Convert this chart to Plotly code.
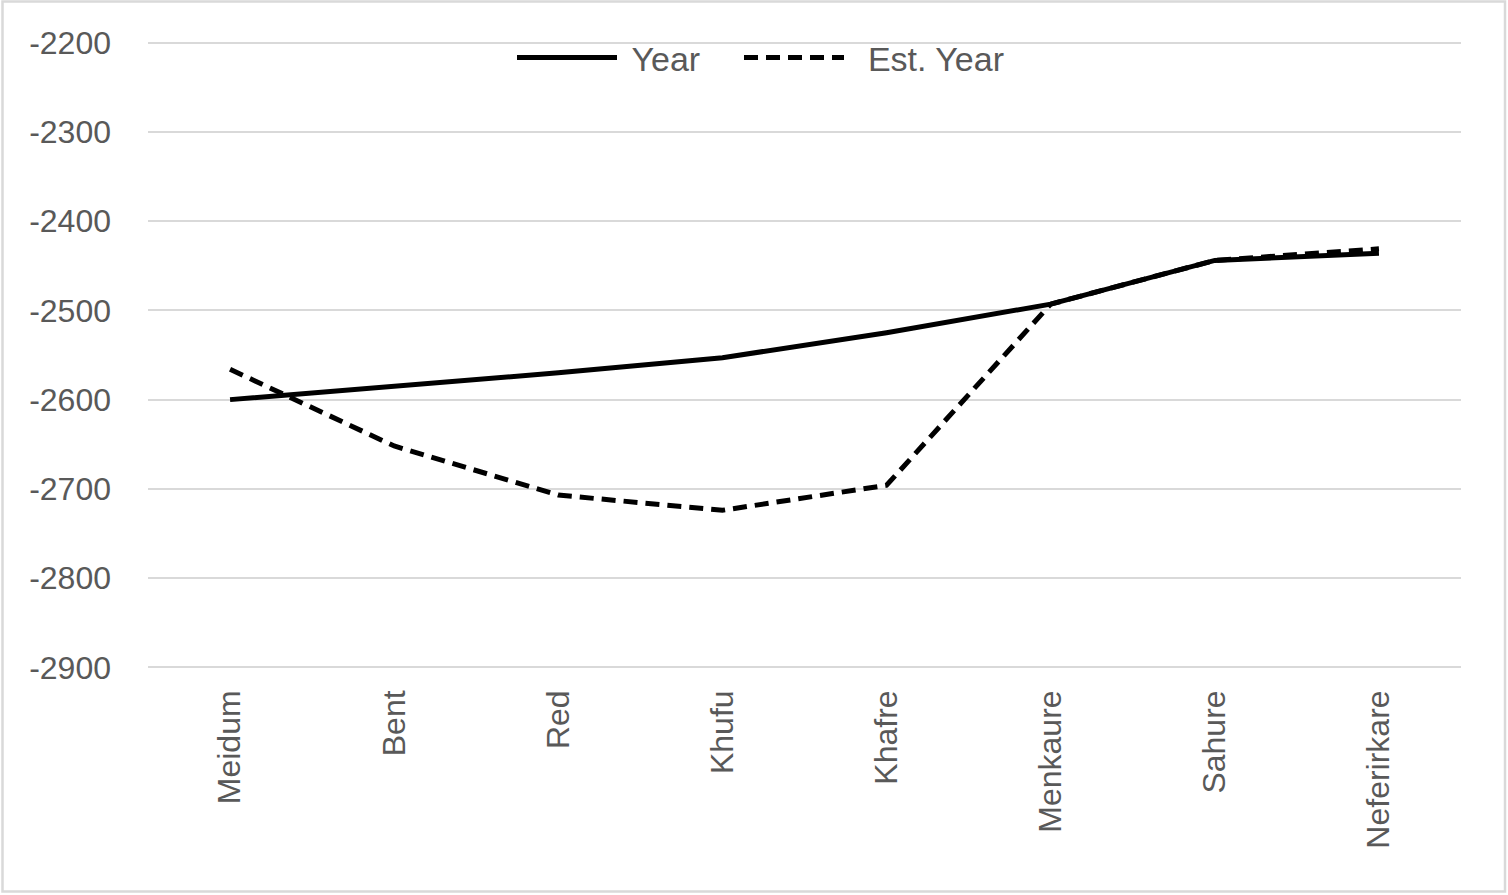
import plotly.graph_objects as go

pyramids = ["Meidum", "Bent", "Red", "Khufu", "Khafre", "Menkaure", "Sahure", "Neferirkare"]
year = [-2600, -2585, -2570, -2553, -2525, -2493, -2444, -2436]
est_year = [-2566, -2652, -2707, -2724, -2696, -2493, -2444, -2431]
y_ticks = [-2900, -2800, -2700, -2600, -2500, -2400, -2300, -2200]

W, H = 1508, 895
L, R, T, B = 148, 47, 40, 225

fig = go.Figure()
fig.add_trace(go.Scatter(x=pyramids, y=year, mode="lines", name="\u00a0Year",
                         legendwidth=112,
                         line=dict(color="black", width=5)))
fig.add_trace(go.Scatter(x=pyramids, y=est_year, mode="lines", name="\u00a0\u00a0Est. Year",
                         line=dict(color="black", width=5, dash="14px,8px")))

font = dict(family="Liberation Sans, Arial, sans-serif", size=32, color="#595959")
lfont = dict(family="Liberation Sans, Arial, sans-serif", size=34, color="#595959")

pw = W - L - R
ph = H - T - B
fig.update_layout(
    width=W, height=H,
    margin=dict(l=L, r=R, t=T, b=B),
    paper_bgcolor="white", plot_bgcolor="white",
    font=font,
    showlegend=True,
    legend=dict(orientation="h", x=(512 - L) / pw, xanchor="left",
                y=(H - B - 58) / ph, yanchor="middle",
                bgcolor="rgba(0,0,0,0)", font=lfont, itemwidth=100,
                traceorder="normal"),
    xaxis=dict(type="category", showgrid=False, zeroline=False, showline=False,
               tickangle=-90, ticks="", ticklabelstandoff=13,
               range=[-0.5, len(pyramids) - 0.5]),
    yaxis=dict(range=[-2903, -2197], tickvals=y_ticks,
               ticktext=[str(v) for v in y_ticks],
               showgrid=True, gridcolor="#d9d9d9", gridwidth=2,
               zeroline=False, showline=False, ticks="", ticklabelstandoff=36),
    shapes=[dict(type="rect", xref="paper", yref="paper",
                 x0=(2.5 - L) / pw, x1=(1505 - L) / pw,
                 y0=(H - B - 891.5) / ph, y1=(H - B - 1.5) / ph,
                 line=dict(color="#d9d9d9", width=2.5), fillcolor="rgba(0,0,0,0)",
                 layer="below")],
)

fig.write_html("out.html", config={"displayModeBar": False},
               post_script="document.body.style.margin='0';")
